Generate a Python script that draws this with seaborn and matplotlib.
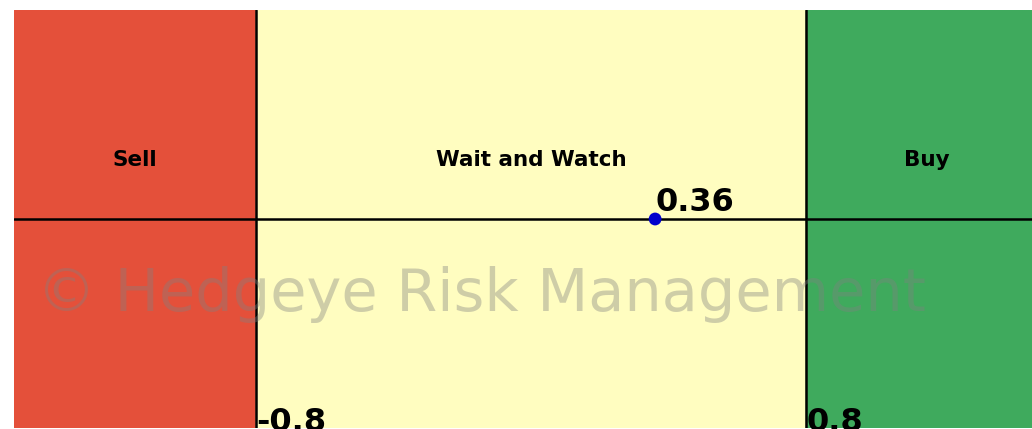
import matplotlib
matplotlib.use("Agg")
import matplotlib.pyplot as plt
import seaborn as sns
import pandas as pd

# zone boundaries and labels
x_min, x_max = -1.505, 1.5
sell_cut, buy_cut = -0.8, 0.8
zone_labels = ["Sell", "Wait and Watch", "Buy"]
zone_colors = ["#E4503A", "#FFFDC0", "#3FAA5D"]
current_value = [0.36]

sns.set_style("white")

fig = plt.figure(figsize=(10.32, 4.29), dpi=100)
ax = fig.add_axes([14 / 1032, 1 / 429, 1033 / 1032, 418 / 429])

# colored zones
edges = [x_min, sell_cut, buy_cut, x_max]
for i, (lab, col) in enumerate(zip(zone_labels, zone_colors)):
    ax.axvspan(edges[i], edges[i + 1], color=col, zorder=0)
    ax.text((edges[i] + edges[i + 1]) / 2, 0.28, lab, ha='center', va='center',
            fontsize=15.5, fontweight='bold', color='black')

ax.axhline(0, color='black', linewidth=1.8, zorder=1)
for c in [sell_cut, buy_cut]:
    ax.axvline(c, color='black', linewidth=1.8, zorder=1)
    ax.text(c, -1.015, f"{c:g}", ha='left', va='baseline', fontsize=23,
            fontweight='bold', color='black')

df = pd.DataFrame({'x': current_value, 'y': [0]})
sns.scatterplot(data=df, x='x', y='y', ax=ax, color='#0000CC', s=85,
                edgecolor='none', zorder=3)
ax.text(current_value[0], 0.04, f"{current_value[0]:.2f}", ha='left', va='baseline',
        fontsize=23, fontweight='bold', color='black')

# watermark
ax.text(-0.146, -0.44, "\u00a9 Hedgeye Risk Management", ha='center', va='baseline',
        fontsize=42.5, family='DejaVu Sans', color='gray', alpha=0.38, zorder=2)

ax.set_xlim(x_min, x_max)
ax.set_ylim(-1, 1)
ax.axis('off')

fig.savefig("out.png", dpi=100)
